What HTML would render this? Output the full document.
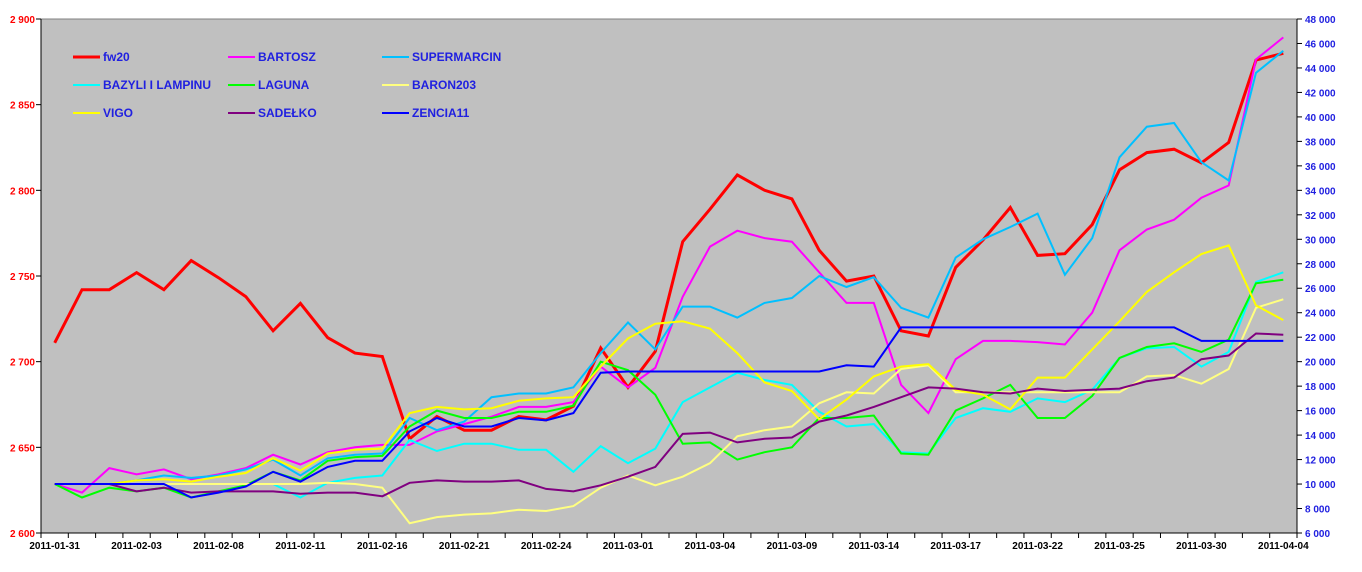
<!DOCTYPE html>
<html><head><meta charset="utf-8"><style>
html,body{margin:0;padding:0;background:#fff;}
svg{display:block;font-family:"Liberation Sans",Arial,sans-serif;}
</style></head><body>
<svg id="chart" width="1362" height="572" viewBox="0 0 1362 572" xmlns="http://www.w3.org/2000/svg"></svg>
<script>
const categoryCount = 46;
const xTickLabels = ["2011-01-31","2011-02-03","2011-02-08","2011-02-11","2011-02-16","2011-02-21","2011-02-24","2011-03-01","2011-03-04","2011-03-09","2011-03-14","2011-03-17","2011-03-22","2011-03-25","2011-03-30","2011-04-04"];
const leftTicks = [2600,2650,2700,2750,2800,2850,2900];
const rightTicks = [6000,8000,10000,12000,14000,16000,18000,20000,22000,24000,26000,28000,30000,32000,34000,36000,38000,40000,42000,44000,46000,48000];
const seriesNames = ["fw20","BARTOSZ","SUPERMARCIN","BAZYLI I LAMPINU","LAGUNA","BARON203","VIGO","SADEŁKO","ZENCIA11"];
const fw20 = [2711,2742,2742,2752,2742,2759,2749,2738,2718,2734,2714,2705,2703,2655,2668,2660,2660,2668,2666,2674,2708,2685,2706,2770,2789,2809,2800,2795,2765,2747,2750,2718,2715,2755,2771,2790,2762,2763,2780,2812,2822,2824,2816,2828,2876,2880];
const bartosz = [10000,9300,11300,10800,11200,10400,10800,11300,12400,11600,12600,13000,13200,13200,14300,14900,15500,16300,16300,16700,19600,17900,19500,25300,29400,30700,30100,29800,27300,24800,24800,18100,15800,20200,21700,21700,21600,21400,24000,29100,30800,31600,33400,34400,44700,46500];
const supermarcin = [10000,10000,10000,10300,10700,10500,10700,11200,12000,10700,12100,12400,12500,15400,14400,15100,17100,17400,17400,17900,20700,23200,21000,24500,24500,23600,24800,25200,27000,26100,26900,24400,23600,28500,30000,31000,32100,27100,30100,36700,39200,39500,36300,34800,43600,45400];
const bazyli = [10000,10000,10000,10000,10000,10000,10000,10000,10000,8900,10100,10500,10700,13600,12700,13300,13300,12800,12800,11000,13100,11700,12900,16700,17900,19100,18500,18100,15900,14700,14900,12600,12500,15400,16200,15900,17000,16700,17700,20300,21100,21200,19600,20800,26500,27300];
const laguna = [10000,8900,9700,9400,9700,8900,9400,9900,11000,10300,11900,12200,12300,14700,16000,15400,15400,15900,15900,16400,20000,19300,17300,13300,13400,12000,12600,13000,15400,15400,15600,12500,12400,16000,17000,18100,15400,15400,17200,20300,21200,21500,20800,21800,26400,26700];
const baron203 = [10000,10000,10000,10000,10000,10000,10000,10000,10000,10000,10100,10000,9700,6800,7300,7500,7600,7900,7800,8200,9700,10700,9900,10600,11700,13900,14400,14700,16600,17500,17400,19400,19700,17500,17500,17500,17500,17500,17500,17500,18800,18900,18200,19400,24400,25100];
const vigo = [10000,10000,10000,10300,10400,10200,10600,10900,12100,11100,12500,12800,12900,15800,16300,16100,16200,16800,17000,17100,19600,21900,23100,23300,22700,20700,18300,17600,15300,16900,18800,19600,19800,17700,17300,16100,18700,18700,21000,23300,25700,27300,28800,29500,24600,23400];
const sadelko = [10000,10000,10000,9400,9700,9300,9400,9400,9400,9200,9300,9300,9000,10100,10300,10200,10200,10300,9600,9400,9900,10600,11400,14100,14200,13400,13700,13800,15100,15600,16300,17100,17900,17800,17500,17400,17800,17600,17700,17800,18400,18700,20200,20500,22300,22200];
const zencia = [10000,10000,10000,10000,10000,8900,9300,9800,11000,10200,11400,11900,11900,14300,15400,14700,14700,15400,15200,15800,19100,19200,19200,19200,19200,19200,19200,19200,19200,19700,19600,22800,22800,22800,22800,22800,22800,22800,22800,22800,22800,22800,21700,21700,21700,21700];

const NS="http://www.w3.org/2000/svg";
const svg=document.getElementById('chart');
const PL=41,PR=1297,PT=19,PB=533;
const step=(PR-PL)/categoryCount;
function xPos(i){return PL+step*(i+0.5);}
function yLeft(v){return PB-(v-2600)/(2900-2600)*(PB-PT);}
function yRight(v){return PB-(v-6000)/(48000-6000)*(PB-PT);}
function mk(tag,attrs,parent){const e=document.createElementNS(NS,tag);for(const k in attrs)e.setAttribute(k,attrs[k]);(parent||svg).appendChild(e);return e;}

const bg=mk('rect',{x:PL,y:PT,width:PR-PL,height:PB-PT,fill:'#c0c0c0'});


mk('line',{x1:PL,y1:PT,x2:PR,y2:PT,stroke:'#808080','stroke-width':1});
const la=mk('line',{x1:PL,y1:PT,x2:PL,y2:PB,stroke:'#000','stroke-width':1});


const ra=mk('line',{x1:PR,y1:PT,x2:PR,y2:PB,stroke:'#000','stroke-width':1});


const xa=mk('line',{x1:PL-5,y1:PB,x2:PR+5,y2:PB,stroke:'#000','stroke-width':1});



leftTicks.forEach(v=>{
  const y=yLeft(v);
  mk('line',{x1:PL-5,y1:y,x2:PL,y2:y,stroke:'#000'});
  const t=mk('text',{x:PL-6,y:y+4,'text-anchor':'end','font-size':'10','font-weight':'bold',fill:'#ff0000'});
  t.textContent=String(v).replace(/(\d)(\d{3})$/,'$1 $2');
  
  
});
rightTicks.forEach(v=>{
  const y=yRight(v);
  mk('line',{x1:PR,y1:y,x2:PR+5,y2:y,stroke:'#000'});
  const t=mk('text',{x:PR+8,y:y+4,'text-anchor':'start','font-size':'10','font-weight':'bold',fill:'#2020e0'});
  t.textContent=String(v).replace(/(\d)(\d{3})$/,'$1 $2');
  
  
});
for(let i=0;i<=categoryCount;i++){
  const x=PL+step*i;
  mk('line',{x1:x,y1:PB,x2:x,y2:PB+5,stroke:'#000'});
}
xTickLabels.forEach((lab,k)=>{
  const t=mk('text',{x:xPos(k*3),y:PB+16,'text-anchor':'middle','font-size':'10','font-weight':'bold',fill:'#000'});
  t.textContent=lab;
  
  
});

const seriesList=[
 {d:fw20,c:'#ff0000',w:3,ax:'L',n:'fw20-line'},
 {d:bartosz,c:'#ff00ff',w:2,ax:'R',n:'bartosz-line'},
 {d:supermarcin,c:'#00c0ff',w:2,ax:'R',n:'supermarcin-line'},
 {d:bazyli,c:'#00ffff',w:2,ax:'R',n:'bazyli-line'},
 {d:laguna,c:'#00ff00',w:2,ax:'R',n:'laguna-line'},
 {d:baron203,c:'#ffff80',w:2,ax:'R',n:'baron203-line'},
 {d:vigo,c:'#ffff00',w:2,ax:'R',n:'vigo-line'},
 {d:sadelko,c:'#800080',w:2,ax:'R',n:'sadelko-line'},
 {d:zencia,c:'#0000ff',w:2,ax:'R',n:'zencia11-line'}
];
seriesList.forEach(s=>{
  const f=s.ax==='L'?yLeft:yRight;
  const pts=s.d.map((v,i)=>xPos(i).toFixed(1)+','+f(v).toFixed(1)).join(' ');
  const p=mk('polyline',{points:pts,fill:'none',stroke:s.c,'stroke-width':s.w,'stroke-linejoin':'miter'});
  
  
});

const legendColors=['#ff0000','#ff00ff','#00c0ff','#00ffff','#00ff00','#ffff80','#ffff00','#800080','#0000ff'];
const colX=[73,228,382], rowY=[57,85,113];
seriesNames.forEach((name,i)=>{
  const r=Math.floor(i/3), c=i%3;
  const g=mk('g',{});
  
  
  mk('line',{x1:colX[c],y1:rowY[r],x2:colX[c]+27,y2:rowY[r],stroke:legendColors[i],'stroke-width':i===0?3:2},g);
  const t=mk('text',{x:colX[c]+30,y:rowY[r]+4,'font-size':'12','font-weight':'bold',fill:'#2020e0'},g);
  t.textContent=name;
});
</script>
</body></html>
